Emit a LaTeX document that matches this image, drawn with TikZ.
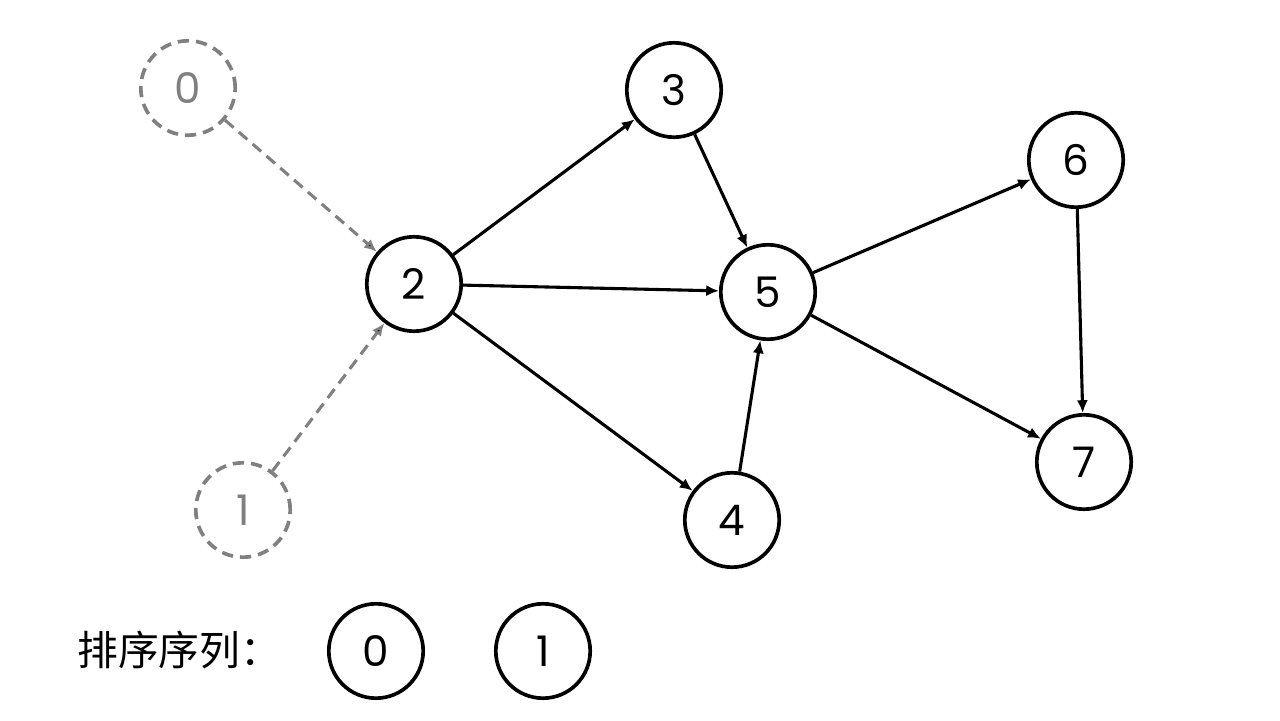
\documentclass[tikz,border=0pt]{standalone}
\usepackage{fontspec}
\setmainfont{Poppins}
\newfontfamily\cjk{Noto Sans CJK SC}
\usetikzlibrary{arrows.meta}
\definecolor{ghostgray}{RGB}{128,128,128}
\begin{document}
\begin{tikzpicture}[
        vertex/.style={shape=circle,draw=black,line width=2.6pt,minimum size=2.36cm,inner sep=0pt,font=\fontsize{30}{30}\selectfont},
        ghost/.style={vertex,draw=ghostgray,text=ghostgray,dash pattern=on 8pt off 5pt},
        arc/.style={-{Latex[length=3.2mm,width=2.8mm]},line width=2.2pt},
        ghostarc/.style={arc,draw=ghostgray,dash pattern=on 8pt off 5pt}
    ]
            \useasboundingbox (0,0) rectangle (32,18);

            \node[ghost] (V0) at (4.7,15.8) {0};
            \node[ghost] (V1) at (6.075,5.25) {1};
            \node[vertex] (V2) at (10.35,10.9) {2};
            \node[vertex] (V3) at (16.85,15.75) {3};
            \node[vertex] (V4) at (18.3,5.0) {4};
            \node[vertex] (V5) at (19.2,10.7) {5};
            \node[vertex] (V6) at (26.9,14.0) {6};
            \node[vertex] (V7) at (27.1,6.45) {7};

            \path[ghostarc] (V0) edge node {} (V2);
            \path[ghostarc] (V1) edge node {} (V2);
            \path[arc] (V2) edge node {} (V3);
            \path[arc] (V2) edge node {} (V5);
            \path[arc] (V2) edge node {} (V4);
            \path[arc] (V3) edge node {} (V5);
            \path[arc] (V4) edge node {} (V5);
            \path[arc] (V5) edge node {} (V6);
            \path[arc] (V5) edge node {} (V7);
            \path[arc] (V6) edge node {} (V7);

            % sorted sequence
            \node[anchor=west,inner sep=0pt,font=\cjk\fontsize{29}{29}\selectfont] (L) at (1.925,1.75) {排序序列：};
            \node[vertex] (S0) at (9.4,1.725) {0};
            \node[vertex] (S1) at (13.575,1.725) {1};
        \end{tikzpicture}
\end{document}
